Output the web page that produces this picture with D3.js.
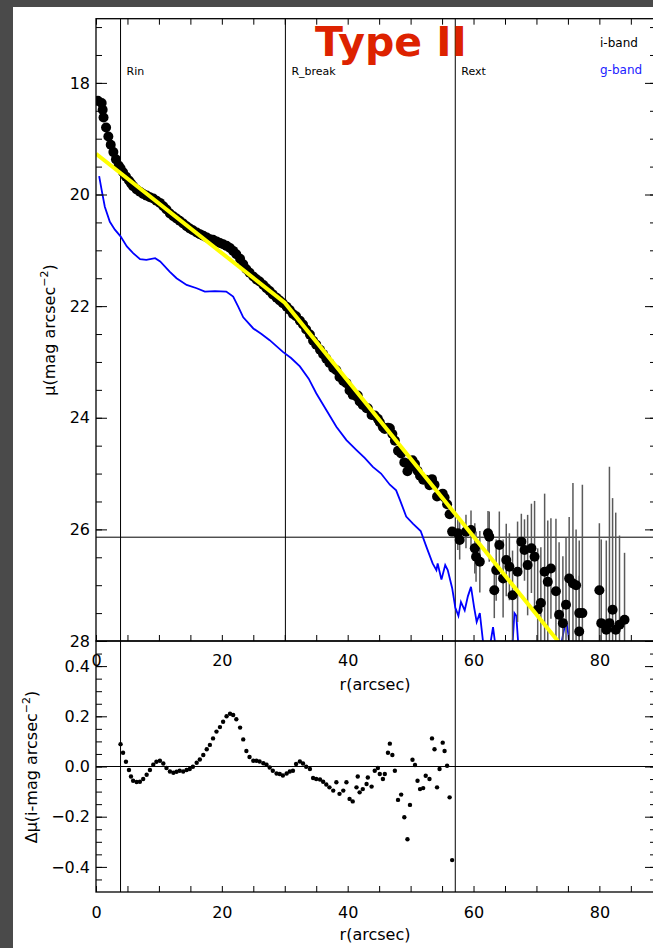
<!DOCTYPE html>
<html lang="en">
<head>
  <meta charset="utf-8">
  <title>Type II profile</title>
  <script src="https://d3js.org/d3.v7.min.js"></script>
  <style>

  body {
    margin: 0;
    background: #fff;
  }

  text {
    font-family: "DejaVu Sans", Verdana, sans-serif;
    fill: #000;
  }

  .axis-title {
    font-size: 16px;
    text-anchor: middle;
  }

  .marker-label {
    font-size: 11px;
  }

  .legend-label {
    font-size: 12px;
  }

  .frame {
    fill: none;
    stroke: #000;
    stroke-width: 1.3px;
  }

  .ref-line {
    stroke: #000;
    stroke-width: 1px;
  }

  </style>
</head>
<body>
<script>

// i-band profile, inner core (r < Rin)
var coreR  = [0.3, 0.9, 1.06, 1.2, 1.6, 1.96, 2.34, 2.76, 3.17, 3.6];
var coreMu = [18.32, 18.36, 18.48, 18.62, 18.8, 18.96, 19.11, 19.24, 19.37, 19.48];

// i-band profile between Rin and Rext, plus the residual from the fit
var denseR = [3.9, 4.3, 4.76, 5.24, 5.56, 5.9, 6.46, 6.98, 7.5, 8.05,
  8.57, 9.1, 9.6, 10.16, 10.7, 11.2, 11.75, 12.3, 12.8, 13.3,
  13.86, 14.4, 14.9, 15.4, 16.0, 16.5, 17.05, 17.6, 18.1, 18.6,
  19.15, 19.7, 20.2, 20.75, 21.3, 21.8, 22.3, 22.9, 23.4, 23.9,
  24.4, 25.0, 25.5, 26.0, 26.6, 27.1, 27.6, 28.1, 28.7, 29.2,
  29.7, 30.3, 30.8, 31.3, 31.8, 32.4, 32.9, 33.4, 34.0, 34.5,
  35.0, 35.6, 36.1, 36.6, 37.1, 37.7, 38.2, 38.7, 39.3, 39.8,
  40.3, 40.8, 41.4, 41.6, 41.9, 42.4, 43.0, 43.2, 43.8, 44.3,
  44.8, 45.1, 45.6, 45.9, 46.4, 46.7, 47.1, 47.5, 48.0, 48.5,
  49.0, 49.5, 49.9, 50.3, 50.7, 51.1, 51.5, 52.0, 52.4, 53.0,
  53.4, 53.8, 54.2, 54.6, 55.1, 55.4, 55.8, 56.2, 56.6];

var denseMu = [19.53, 19.60, 19.68, 19.75, 19.80, 19.85, 19.91, 19.95, 19.99, 20.02,
  20.05, 20.07, 20.11, 20.15, 20.21, 20.27, 20.34, 20.39, 20.43, 20.47,
  20.52, 20.57, 20.61, 20.64, 20.68, 20.71, 20.74, 20.77, 20.80, 20.81,
  20.84, 20.87, 20.89, 20.92, 20.96, 21.01, 21.07, 21.15, 21.25, 21.34,
  21.40, 21.47, 21.52, 21.56, 21.62, 21.68, 21.73, 21.79, 21.85, 21.90,
  21.95, 22.01, 22.07, 22.14, 22.18, 22.26, 22.33, 22.42, 22.51, 22.62,
  22.69, 22.78, 22.86, 22.94, 23.02, 23.11, 23.15, 23.27, 23.34, 23.38,
  23.51, 23.59, 23.62, 23.60, 23.71, 23.77, 23.83, 23.83, 23.95, 23.96,
  24.02, 24.08, 24.17, 24.20, 24.18, 24.19, 24.29, 24.41, 24.59, 24.64,
  24.80, 24.96, 24.88, 24.76, 24.83, 24.95, 25.04, 25.11, 25.11, 25.21,
  25.10, 25.20, 25.41, 25.39, 25.36, 25.43, 25.55, 25.73, 26.04];

var residual = [0.089, 0.055, 0.019, -0.014, -0.04, -0.057, -0.062, -0.061, -0.05, -0.033,
  -0.014, 0.007, 0.019, 0.023, 0.012, -0.006, -0.02, -0.025, -0.021, -0.017,
  -0.02, -0.014, -0.01, -0.001, 0.015, 0.028, 0.046, 0.069, 0.086, 0.112,
  0.139, 0.157, 0.178, 0.2, 0.21, 0.205, 0.188, 0.155, 0.108, 0.062,
  0.038, 0.023, 0.023, 0.02, 0.013, 0.007, -0.004, -0.017, -0.028, -0.03,
  -0.036, -0.028, -0.02, -0.017, 0.01, 0.02, 0.012, -0.001, -0.01, -0.046,
  -0.05, -0.052, -0.061, -0.072, -0.083, -0.096, -0.063, -0.109, -0.096, -0.063,
  -0.129, -0.139, -0.083, -0.04, -0.103, -0.09, -0.07, -0.044, -0.08, -0.017,
  -0.006, -0.03, -0.05, -0.03, 0.055, 0.091, 0.046, -0.017, -0.133, -0.112,
  -0.202, -0.29, -0.153, 0.027, 0.006, -0.057, -0.09, -0.086, -0.037, -0.05,
  0.112, 0.069, -0.083, -0.01, 0.095, 0.062, 0.003, -0.123, -0.373];

// i-band profile beyond Rext, with errors
var outR = [57.5, 57.8, 58.8, 59.6, 60.2, 60.4, 61.0, 62.3, 62.5, 63.3,
  63.6, 64.1, 64.7, 65.2, 65.7, 66.2, 67.0, 67.6, 68.1, 68.6,
  69.2, 69.7, 70.2, 70.7, 71.3, 71.8, 72.3, 73.1, 73.6, 74.2,
  74.7, 75.2, 75.8, 76.3, 76.8, 76.8, 77.3, 80.0, 80.3, 81.1,
  81.6, 82.1, 82.6, 83.2, 84.0];
var outMu = [26.07, 26.19, 26.04, 26.01, 26.34, 26.49, 26.58, 26.07, 26.13, 27.09,
  26.73, 26.28, 26.88, 26.55, 26.67, 27.18, 26.76, 26.22, 26.37, 26.64,
  26.34, 26.49, 27.44, 27.32, 26.76, 26.94, 26.70, 27.11, 27.53, 27.68,
  27.35, 26.88, 26.97, 27.0, 27.5, 27.83, 27.5, 27.09, 27.68, 27.80,
  27.68, 27.44, 27.80, 27.71, 27.62];
var outErr = [0.3, 0.35, 0.3, 0.35, 0.45, 0.45, 0.55, 0.4, 0.45, 0.5,
  0.55, 0.6, 0.7, 0.65, 0.6, 0.8, 0.9, 0.5, 0.55, 0.9,
  0.8, 1.0, 1.1, 1.0, 1.4, 1.1, 0.9, 1.3, 1.3, 1.2,
  1.2, 1.1, 1.8, 1.0, 1.3, 1.0, 2.3, 1.2, 1.5, 1.6,
  2.8, 2.0, 2.1, 1.6, 1.2];

// g-band profile
var gR = [0.5, 0.9, 1.4, 2.2, 3.0, 3.9, 4.9, 5.9, 7.0, 8.0,
  9.4, 10.2, 11.7, 12.8, 14.4, 16.0, 17.3, 18.9, 20.7, 21.8,
  22.6, 23.4, 25.0, 26.3, 27.6, 29.7, 31.0, 32.4, 33.8, 35.0,
  36.6, 38.2, 39.8, 41.4, 42.7, 44.0, 45.3, 46.7, 47.7, 48.3,
  49.3, 50.4, 51.6, 52.5, 53.5, 54.1, 54.3, 54.9, 55.5, 55.9,
  56.6, 57.1, 57.6, 58.0, 58.6, 59.1, 59.6, 60.1, 60.5, 61.0,
  61.5, 62.0, 62.6, 63.1, 63.5, 63.9, 64.6, 65.6, 66.2, 66.5,
  66.8, 67.2, 68.5, 70.6, 70.9, 71.3, 73.6, 74.2, 74.7, 75.1,
  75.5, 76.5];
var gMu = [19.67, 19.92, 20.22, 20.49, 20.63, 20.75, 20.93, 21.05, 21.16, 21.17,
  21.14, 21.2, 21.38, 21.5, 21.62, 21.68, 21.74, 21.73, 21.74, 21.83,
  22.01, 22.2, 22.4, 22.5, 22.61, 22.82, 22.93, 23.08, 23.3, 23.56,
  23.86, 24.16, 24.4, 24.58, 24.72, 24.88, 25.0, 25.2, 25.3, 25.47,
  25.77, 25.9, 26.03, 26.31, 26.61, 26.73, 26.61, 26.9, 26.64, 26.73,
  27.05, 27.4, 27.55, 27.3, 27.45, 27.2, 27.03, 27.4, 27.66, 27.5,
  28.0, 28.4, 28.1, 27.75, 28.1, 28.4, 28.6, 28.3, 28.05, 27.5,
  27.55, 28.2, 28.5, 28.3, 28.05, 28.4, 28.3, 27.9, 27.62, 27.9,
  28.4, 28.7];

// broken exponential fit (inner and outer disk)
var fitR  = [0, 30, 73.4];
var fitMu = [19.27, 21.94, 28.0];

// marked radii and limiting surface brightness
var markers = [
  {name: "Rin", r: 3.9, lower: true},
  {name: "R_break", r: 30.1, lower: false},
  {name: "Rext", r: 57.1, lower: true}
];
var muLimit = 26.14;

// tick values
var xMajor = [0, 20, 40, 60, 80];
var muMajor = [18, 20, 22, 24, 26, 28];
var resMajor = [-0.4, -0.2, 0.0, 0.2, 0.4];

// Display constants
var width = 653;
var height = 948;
var plotLeft = 96;
var plotRight = 656;
var topPanel = [18.7, 641];
var botPanel = [641, 892];

var x = d3.scaleLinear().domain([0, 89]).range([plotLeft, plotRight]);
var yMu = d3.scaleLinear().domain([16.85, 28]).range(topPanel);
var yRes = d3.scaleLinear().domain([0.5, -0.5]).range(botPanel);

var svg = d3.select("body")
  .append("svg")
  .attr("width", width)
  .attr("height", height);

// dark slide border at top/left
svg.append("rect").attr("width", width).attr("height", height).attr("fill", "#4a4a4a");
svg.append("rect").attr("x", 13).attr("y", 7)
  .attr("width", width - 13).attr("height", height - 7).attr("fill", "#fff");

var defs = svg.append("defs");
defs.append("clipPath").attr("id", "clip-top").append("rect")
  .attr("x", plotLeft).attr("y", topPanel[0])
  .attr("width", plotRight - plotLeft).attr("height", topPanel[1] - topPanel[0]);
defs.append("clipPath").attr("id", "clip-bot").append("rect")
  .attr("x", plotLeft).attr("y", botPanel[0])
  .attr("width", plotRight - plotLeft).attr("height", botPanel[1] - botPanel[0]);

var xMinor = d3.range(0, 89, 5);

function drawXAxes(yBottom, yTopEdge, withTopTicks, pad) {
  var bottom = svg.append("g")
    .attr("transform", "translate(0," + yBottom + ")")
    .call(d3.axisBottom(x).tickValues(xMinor).tickSizeInner(-6).tickSizeOuter(0)
      .tickPadding(pad)
      .tickFormat(function(d) { return xMajor.indexOf(d) >= 0 ? d : ""; }));
  bottom.select(".domain").remove();
  bottom.selectAll("text").attr("font-size", 16).attr("font-family", "DejaVu Sans");
  if (withTopTicks) {
    var top = svg.append("g")
      .attr("transform", "translate(0," + yTopEdge + ")")
      .call(d3.axisTop(x).tickValues(xMinor).tickSizeInner(-6).tickSizeOuter(0).tickFormat(""));
    top.select(".domain").remove();
  }
}

function drawYAxes(scale, major, minor, fmt) {
  [[d3.axisLeft, plotLeft, true], [d3.axisRight, plotRight, false]].forEach(function(a) {
    var gMaj = svg.append("g")
      .attr("transform", "translate(" + a[1] + ",0)")
      .call(a[0](scale).tickValues(major).tickSizeInner(-11).tickSizeOuter(0)
        .tickPadding(6).tickFormat(a[2] ? fmt : ""));
    gMaj.select(".domain").remove();
    gMaj.selectAll("text").attr("font-size", 16).attr("font-family", "DejaVu Sans");
    var gMin = svg.append("g")
      .attr("transform", "translate(" + a[1] + ",0)")
      .call(a[0](scale).tickValues(minor).tickSizeInner(-6).tickSizeOuter(0).tickFormat(""));
    gMin.select(".domain").remove();
  });
}

// ---------- top panel ----------
var topG = svg.append("g").attr("clip-path", "url(#clip-top)");

// reference lines
topG.selectAll(".vline")
  .data(markers)
  .enter().append("line")
  .attr("class", "ref-line")
  .attr("x1", function(d) { return x(d.r); })
  .attr("x2", function(d) { return x(d.r); })
  .attr("y1", topPanel[0])
  .attr("y2", topPanel[1]);

topG.append("line")
  .attr("class", "ref-line")
  .attr("x1", plotLeft).attr("x2", plotRight)
  .attr("y1", yMu(muLimit)).attr("y2", yMu(muLimit));

// g-band
var gLine = d3.line()
  .x(function(d, i) { return x(gR[i]); })
  .y(function(d) { return yMu(d); });
topG.append("path")
  .datum(gMu)
  .attr("fill", "none")
  .attr("stroke", "#0000ff")
  .attr("stroke-width", 1.8)
  .attr("d", gLine);

// error bars for outer points
topG.selectAll(".err")
  .data(outMu)
  .enter().append("line")
  .attr("stroke", "#5a5a5a")
  .attr("stroke-width", 1.5)
  .attr("x1", function(d, i) { return x(outR[i]); })
  .attr("x2", function(d, i) { return x(outR[i]); })
  .attr("y1", function(d, i) { return yMu(d - outErr[i]); })
  .attr("y2", function(d, i) { return yMu(d + outErr[i]); });

// i-band points
var iR = coreR.concat(denseR, outR);
var iMu = coreMu.concat(denseMu, outMu);
topG.selectAll(".ipt")
  .data(iMu)
  .enter().append("circle")
  .attr("cx", function(d, i) { return x(iR[i]); })
  .attr("cy", function(d) { return yMu(d); })
  .attr("r", 5)
  .attr("fill", "#000");

// fit
var fitLine = d3.line()
  .x(function(d, i) { return x(fitR[i]); })
  .y(function(d) { return yMu(d); });
topG.append("path")
  .datum(fitMu)
  .attr("fill", "none")
  .attr("stroke", "#ffff00")
  .attr("stroke-width", 4)
  .attr("d", fitLine);

svg.append("rect")
  .attr("class", "frame")
  .attr("x", plotLeft).attr("y", topPanel[0])
  .attr("width", plotRight - plotLeft).attr("height", topPanel[1] - topPanel[0]);

drawYAxes(yMu, muMajor, d3.range(17, 28.01, 0.5), d3.format("d"));

// marker labels
svg.selectAll(".mlabel")
  .data(markers)
  .enter().append("text")
  .attr("class", "marker-label")
  .attr("x", function(d) { return x(d.r) + 6; })
  .attr("y", 75)
  .text(function(d) { return d.name; });

// legend
svg.append("text").attr("class", "legend-label")
  .attr("x", 600).attr("y", 47).text("i-band");
svg.append("text").attr("class", "legend-label")
  .attr("x", 600).attr("y", 74).style("fill", "#2020ff").text("g-band");

// title
svg.append("text")
  .attr("x", 391).attr("y", 56)
  .attr("text-anchor", "middle")
  .attr("font-size", 41)
  .attr("font-weight", "bold")
  .style("fill", "#dd2200")
  .text("Type II");

// y title (top)
var muTitle = svg.append("text")
  .attr("class", "axis-title")
  .attr("transform", "translate(55,330) rotate(-90)");
muTitle.append("tspan").text("\u03bc(mag arcsec");
muTitle.append("tspan").attr("dy", -7).attr("font-size", 11).text("\u22122");
muTitle.append("tspan").attr("dy", 7).text(")");

// ---------- bottom panel ----------
var botG = svg.append("g").attr("clip-path", "url(#clip-bot)");

botG.selectAll(".vline")
  .data(markers.filter(function(d) { return d.lower; }))
  .enter().append("line")
  .attr("class", "ref-line")
  .attr("x1", function(d) { return x(d.r); })
  .attr("x2", function(d) { return x(d.r); })
  .attr("y1", botPanel[0])
  .attr("y2", botPanel[1]);

botG.append("line")
  .attr("class", "ref-line")
  .attr("x1", plotLeft).attr("x2", plotRight)
  .attr("y1", yRes(0)).attr("y2", yRes(0));

botG.selectAll(".rpt")
  .data(residual)
  .enter().append("circle")
  .attr("cx", function(d, i) { return x(denseR[i]); })
  .attr("cy", function(d) { return yRes(d); })
  .attr("r", 2.2)
  .attr("fill", "#000");

svg.append("rect")
  .attr("class", "frame")
  .attr("x", plotLeft).attr("y", botPanel[0])
  .attr("width", plotRight - plotLeft).attr("height", botPanel[1] - botPanel[0]);

drawYAxes(yRes, resMajor, d3.range(-0.45, 0.46, 0.05), d3.format(".1f"));

// x axes (top panel labels spill into lower panel, as in the original)
drawXAxes(botPanel[1], botPanel[0], false, 15);
drawXAxes(topPanel[1], topPanel[0], true, 14);

svg.append("text").attr("class", "axis-title")
  .attr("x", 375).attr("y", 690).text("r(arcsec)");
svg.append("text").attr("class", "axis-title")
  .attr("x", 375).attr("y", 940).text("r(arcsec)");

// y title (bottom)
var resTitle = svg.append("text")
  .attr("class", "axis-title")
  .attr("transform", "translate(37,767) rotate(-90)");
resTitle.append("tspan").text("\u0394\u03bc(i-mag arcsec");
resTitle.append("tspan").attr("dy", -7).attr("font-size", 11).text("\u22122");
resTitle.append("tspan").attr("dy", 7).text(")");

</script>
</body>
</html>
